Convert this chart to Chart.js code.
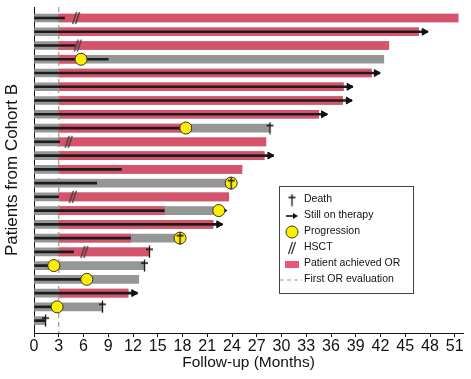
<!DOCTYPE html>
<html>
<head>
<meta charset="utf-8">
<script src="https://cdn.jsdelivr.net/npm/chart.js@4.4.1/dist/chart.umd.min.js"></script>
<style>
  html, body { margin: 0; padding: 0; background: #fff; }
  canvas { display: block; }
</style>
</head>
<body>
<canvas id="swimmer" width="471" height="379"></canvas>
<script>
// Swimmer plot - patients from cohort B, listed top to bottom (months)
const patients   = [1, 2, 3, 4, 5, 6, 7, 8, 9, 10, 11, 12, 13, 14, 15, 16, 17, 18, 19, 20, 21, 22, 23];
const followUp   = [51.4, 46.6, 43.0, 42.4, 40.9, 37.5, 37.4, 34.5, 28.6, 28.1, 27.9, 25.2, 23.9, 23.6, 22.2, 21.7, 17.2, 13.9, 13.3, 12.7, 11.4, 8.3, 1.3];
const orEnd      = [51.4, 46.6, 43.0, 5.7, 40.9, 37.5, 37.4, 34.5, 18.4, 28.1, 27.9, 25.2, null, 23.6, 15.8, 21.7, 11.7, 13.9, null, null, 11.4, null, null];
const therapyEnd = [3.7, 47.7, 5.0, 9.0, 41.9, 38.6, 38.5, 35.5, 18.4, 3.1, 29.0, 10.6, 7.6, 3.0, 15.8, 22.8, 11.7, 4.8, 2.4, 6.4, 12.5, 2.8, 1.4];
const orStart = 3;

// events: row number + month
const arrowRows   = [2, 5, 6, 7, 8, 11, 15, 16, 21];
const arrowMonths = [47.3, 41.5, 38.2, 38.1, 35.1, 28.6, 22.9, 22.4, 12.1];
const progRows    = [4, 9, 13, 15, 17, 19, 20, 22];
const progMonths  = [5.7, 18.4, 23.9, 22.4, 17.7, 2.4, 6.4, 2.8];
const deathRows   = [9, 13, 17, 18, 19, 22, 23];
const deathMonths = [28.6, 23.9, 17.7, 14.0, 13.4, 8.3, 1.4];
const hsctRows    = [1, 3, 10, 14, 18];
const hsctMonths  = [5.1, 5.3, 4.2, 4.7, 6.1];

const xTicks = [0, 3, 6, 9, 12, 15, 18, 21, 24, 27, 30, 33, 36, 39, 42, 45, 48, 51];

const PINK = '#d6536c';
const GRAY = '#959795';
const FONT = '"Liberation Sans", Arial, Helvetica, sans-serif';

// little canvases used as point styles
function makeDagger() {
    const c = document.createElement('canvas');
    c.width = 9; c.height = 13;
    const g = c.getContext('2d');
    g.strokeStyle = '#111';
    g.lineWidth = 1.3;
    g.beginPath();
    g.moveTo(4.5, 0.5); g.lineTo(4.5, 12.5);
    g.moveTo(1, 4); g.lineTo(8, 4);
    g.stroke();
    return c;
}
function makeHsct() {
    const c = document.createElement('canvas');
    c.width = 12; c.height = 14;
    const g = c.getContext('2d');
    g.strokeStyle = '#3a3a3a';
    g.lineWidth = 1.3;
    g.beginPath();
    g.moveTo(2.5, 13); g.lineTo(6.5, 1);
    g.moveTo(5.5, 13); g.lineTo(9.5, 1);
    g.stroke();
    return c;
}
const daggerImg = makeDagger();
const hsctImg = makeHsct();

function toPoints(rows, months) {
    return rows.map((r, i) => ({ x: months[i], y: r }));
}

const grayBars = patients.map((p, i) => ({ x: [0, followUp[i]], y: p }));
const orBars = patients.filter((p, i) => orEnd[i] !== null)
    .map(p => ({ x: [orStart, orEnd[p - 1]], y: p }));
const therapyBars = patients.map((p, i) => ({ x: [0, therapyEnd[i]], y: p }));

// legend box drawn inside the plot
const legendBox = {
    id: 'legendBox',
    afterDraw(chart) {
        const ctx = chart.ctx;
        const x0 = 279, y0 = 186, w = 134, h = 107;
        ctx.save();
        ctx.fillStyle = '#fff';
        ctx.fillRect(x0, y0, w, h);
        ctx.strokeStyle = '#444';
        ctx.lineWidth = 1;
        ctx.strokeRect(x0 + 0.5, y0 + 0.5, w, h);

        const sx = 292, tx = 304;
        const ys = [200, 216, 232, 248, 264, 280];
        const labels = ['Death', 'Still on therapy', 'Progression', 'HSCT', 'Patient achieved OR', 'First OR evaluation'];

        ctx.drawImage(daggerImg, sx - 4.5, ys[0] - 6.5);

        ctx.strokeStyle = '#111';
        ctx.lineWidth = 1.6;
        ctx.beginPath();
        ctx.moveTo(sx - 6, ys[1]); ctx.lineTo(sx + 2, ys[1]);
        ctx.stroke();
        ctx.fillStyle = '#111';
        ctx.beginPath();
        ctx.moveTo(sx + 6, ys[1]); ctx.lineTo(sx + 1, ys[1] - 3); ctx.lineTo(sx + 1, ys[1] + 3);
        ctx.closePath(); ctx.fill();

        ctx.fillStyle = '#ffee00';
        ctx.strokeStyle = '#333';
        ctx.lineWidth = 1;
        ctx.beginPath();
        ctx.arc(sx, ys[2], 6, 0, Math.PI * 2);
        ctx.fill(); ctx.stroke();

        ctx.drawImage(hsctImg, sx - 6, ys[3] - 7);

        ctx.fillStyle = '#e8587a';
        ctx.fillRect(sx - 7, ys[4] - 3, 14, 7);

        ctx.strokeStyle = '#999';
        ctx.setLineDash([4, 3]);
        ctx.beginPath();
        ctx.moveTo(x0 + 1, ys[5]); ctx.lineTo(tx - 2, ys[5]);
        ctx.stroke();
        ctx.setLineDash([]);

        ctx.fillStyle = '#111';
        ctx.font = '10.5px ' + FONT;
        ctx.textBaseline = 'middle';
        labels.forEach((t, i) => ctx.fillText(t, tx, ys[i] - 1));
        ctx.restore();
    }
};

new Chart(document.getElementById('swimmer'), {
    type: 'bar',
    data: {
        datasets: [
            {
                type: 'scatter', label: 'Death', data: toPoints(deathRows, deathMonths),
                pointStyle: daggerImg, order: 0
            },
            {
                type: 'scatter', label: 'Progression', data: toPoints(progRows, progMonths),
                pointStyle: 'circle', pointRadius: 6, backgroundColor: '#ffee00',
                borderColor: '#333', borderWidth: 1, order: 1
            },
            {
                type: 'scatter', label: 'HSCT', data: toPoints(hsctRows, hsctMonths),
                pointStyle: hsctImg, order: 2
            },
            {
                type: 'scatter', label: 'Still on therapy', data: toPoints(arrowRows, arrowMonths),
                pointStyle: 'triangle', rotation: 90, pointRadius: 4,
                backgroundColor: '#111', borderColor: '#111', borderWidth: 1, order: 2
            },
            {
                label: 'Therapy', data: therapyBars, indexAxis: 'y', grouped: false,
                barThickness: 2, backgroundColor: '#1c1c1c', order: 3
            },
            {
                type: 'scatter', label: 'First OR evaluation',
                data: [{ x: orStart, y: 0.2 }, { x: orStart, y: 23.9 }],
                showLine: true, pointRadius: 0, borderColor: '#9a9a9a',
                borderWidth: 1.2, borderDash: [5, 4], order: 4
            },
            {
                label: 'Patient achieved OR', data: orBars, indexAxis: 'y', grouped: false,
                barThickness: 8, backgroundColor: PINK, order: 5
            },
            {
                label: 'Follow-up', data: grayBars, indexAxis: 'y', grouped: false,
                barThickness: 8, backgroundColor: GRAY, order: 6
            }
        ]
    },
    options: {
        responsive: false,
        animation: false,
        layout: { padding: { top: 6, right: 8, left: 0, bottom: 0 } },
        plugins: {
            legend: { display: false },
            tooltip: { enabled: false }
        },
        scales: {
            x: {
                type: 'linear',
                min: 0,
                max: 52,
                offset: false,
                afterBuildTicks: s => { s.ticks = xTicks.map(v => ({ value: v })); },
                afterFit: s => { s.height = 46; },
                border: { color: '#111', width: 1 },
                grid: { offset: false, drawOnChartArea: false, drawTicks: true, tickLength: 4, color: '#111' },
                ticks: {
                    autoSkip: false, maxRotation: 0, padding: 0,
                    color: '#111', font: { family: FONT, size: 16 }
                },
                title: {
                    display: true, text: 'Follow-up (Months)', color: '#111',
                    font: { family: FONT, size: 15.5 }, padding: { top: 0, bottom: 7 }
                }
            },
            y: {
                type: 'linear',
                reverse: true,
                min: 0.2,
                max: 23.9,
                offset: false,
                afterFit: s => { s.width = 34; },
                border: { color: '#111', width: 1 },
                grid: { display: false, offset: false },
                ticks: { display: false },
                title: {
                    display: true, text: 'Patients from Cohort B', color: '#111',
                    font: { family: FONT, size: 17 }, padding: { top: 2, bottom: 0 }
                }
            }
        }
    },
    plugins: [legendBox]
});
</script>
</body>
</html>
